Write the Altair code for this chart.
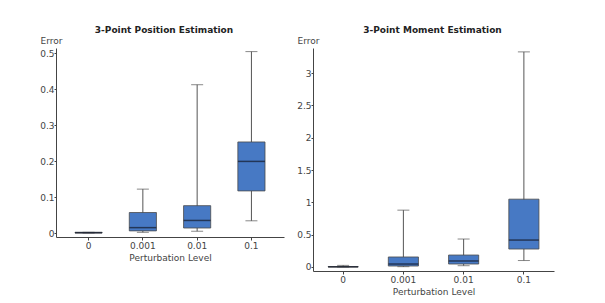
import altair as alt
import pandas as pd

levels = ["0", "0.001", "0.01", "0.1"]

pos_min = [0.0, 0.002, 0.005, 0.034]
pos_q1 = [0.0, 0.006, 0.014, 0.117]
pos_med = [0.001, 0.015, 0.035, 0.199]
pos_q3 = [0.002, 0.057, 0.076, 0.253]
pos_max = [0.002, 0.122, 0.412, 0.504]

mom_min = [0.0, 0.005, 0.02, 0.10]
mom_q1 = [0.0, 0.015, 0.046, 0.278]
mom_med = [0.003, 0.046, 0.093, 0.417]
mom_q3 = [0.006, 0.155, 0.185, 1.05]
mom_max = [0.025, 0.88, 0.433, 3.33]

pos_ticks = [0, 0.1, 0.2, 0.3, 0.4, 0.5]
mom_ticks = [0, 0.5, 1, 1.5, 2, 2.5, 3]

FONT = "DejaVu Sans"
AX = "#444444"


def panel(title, mins, q1s, meds, q3s, maxs, domain, ticks, w, h, box_px, po, dx):
    df = pd.DataFrame({"level": levels, "lo": mins, "q1": q1s, "med": meds,
                       "q3": q3s, "hi": maxs})
    x = alt.X("level:N", sort=levels, title="Perturbation Level",
              scale=alt.Scale(paddingInner=0, paddingOuter=po),
              axis=alt.Axis(labelAngle=0, tickSize=3, labelPadding=1,
                            titlePadding=3, domainColor=AX, tickColor=AX,
                            labelColor=AX, titleColor=AX, titleFontWeight="normal",
                            labelFontSize=9, titleFontSize=9))
    ysc = alt.Scale(domain=domain, nice=False, zero=False)
    yax = alt.Axis(values=ticks, format="~g", title="Error", titleAngle=0,
                   titleAlign="left", titleX=-16, titleY=-5,
                   titleBaseline="alphabetic", grid=False, tickSize=2,
                   labelPadding=0, domainColor=AX, tickColor=AX, labelColor=AX,
                   titleColor=AX, titleFontWeight="normal", labelFontSize=9,
                   titleFontSize=9)

    def Y(f):
        return alt.Y(f + ":Q", scale=ysc, axis=yax)

    base = alt.Chart(df)
    whisk = base.mark_rule(color="#555555", strokeWidth=1).encode(
        x=x, y=Y("lo"), y2="hi:Q")
    cap_hi = base.mark_tick(color="#555555", size=12, thickness=1).encode(
        x=x, y=Y("hi"))
    cap_lo = base.mark_tick(color="#555555", size=12, thickness=1).encode(
        x=x, y=Y("lo"))
    box = base.mark_bar(width={"band": 0.5}, color="#4779c4", stroke="#4a4a4a",
                        strokeWidth=0.8).encode(x=x, y=Y("q1"), y2="q3:Q")
    med = base.mark_tick(color="#141a2a", size=box_px, thickness=1.5).encode(
        x=x, y=Y("med"))
    return alt.layer(whisk, cap_hi, cap_lo, box, med).properties(
        width=w, height=h,
        title=alt.TitleParams(title, fontSize=9, font=FONT, fontWeight="bold",
                              color="#222222", offset=1, dx=dx))


left = panel("3-Point Position Estimation", pos_min, pos_q1, pos_med, pos_q3,
             pos_max, [-0.011, 0.514], pos_ticks, 228, 189, 27, 0.1, -6)
right = panel("3-Point Moment Estimation", mom_min, mom_q1, mom_med, mom_q3,
              mom_max, [-0.062, 3.39], mom_ticks, 241, 223, 30, 0.0, -1)

chart = alt.hconcat(left, right, spacing=12).properties(
    padding={"left": 31, "top": 18, "right": 5, "bottom": 5}
).configure(font=FONT).configure_view(stroke=None)

chart.save("out.html", embed_options={"renderer": "svg", "actions": False})
